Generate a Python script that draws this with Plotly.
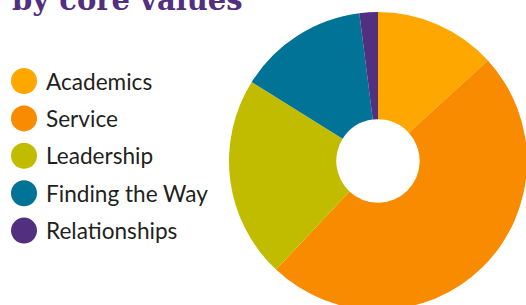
import plotly.graph_objects as go

labels = ["Academics", "Service", "Leadership", "Finding the Way", "Relationships"]
values = [13.2, 48.8, 21.9, 14.1, 2.0]
colors = ["#FDA700", "#F98B00", "#C2BC00", "#007396", "#532F80"]
title_text = "by core values"

W, H = 540, 320
cx, cy, r = 378, 161, 149

fig = go.Figure(go.Pie(
    labels=labels, values=values, hole=0.28, sort=False, direction="clockwise",
    rotation=0, marker=dict(colors=colors, line=dict(width=0)),
    textinfo="none", hoverinfo="label+percent", showlegend=False,
    domain=dict(x=[(cx - r) / W, (cx + r) / W], y=[1 - (cy + r) / H, 1 - (cy - r) / H]),
))

shapes = []
annotations = []
for i, (lab, col) in enumerate(zip(labels, colors)):
    yc = 81 + i * 37.4
    shapes.append(dict(type="circle", xref="paper", yref="paper",
                       xsizemode="pixel", ysizemode="pixel",
                       xanchor=24 / W, yanchor=1 - yc / H,
                       x0=-13, x1=13, y0=-13, y1=13,
                       fillcolor=col, line=dict(width=0)))
    annotations.append(dict(text=lab, xref="paper", yref="paper",
                            x=44 / W, y=1 - yc / H, xanchor="left", yanchor="middle",
                            showarrow=False, font=dict(family="Lato", size=22.6, color="#231F20")))

annotations.append(dict(text="<b>" + title_text + "</b>", xref="paper", yref="paper",
                        x=10 / W, y=1 - 12 / H, xanchor="left", yanchor="bottom", yshift=-7,
                        showarrow=False,
                        font=dict(family="DejaVu Serif", size=29, color="#532F80")))

fig.update_layout(width=W, height=H, margin=dict(l=0, r=0, t=0, b=0),
                  paper_bgcolor="white", plot_bgcolor="white",
                  shapes=shapes, annotations=annotations)

fig.write_html("out.html", config={"displayModeBar": False},
               post_script="document.body.style.margin='0';document.body.style.overflow='hidden';")
